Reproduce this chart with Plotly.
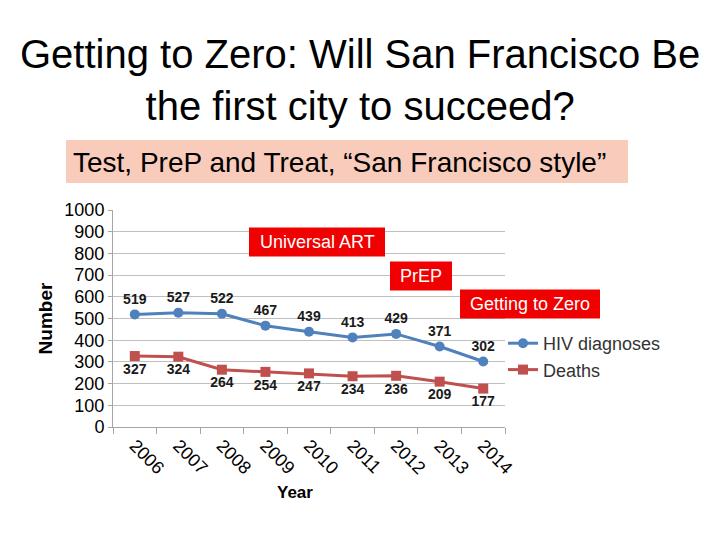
import plotly.graph_objects as go

years = ["2006", "2007", "2008", "2009", "2010", "2011", "2012", "2013", "2014"]
hiv_diagnoses = [519, 527, 522, 467, 439, 413, 429, 371, 302]
deaths = [327, 324, 264, 254, 247, 234, 236, 209, 177]
y_ticks = [0, 100, 200, 300, 400, 500, 600, 700, 800, 900, 1000]

FONT = "Liberation Sans, Arial, sans-serif"
OFF = 8  # page body margin
VW, VH = 720, 540  # viewport
W, H = VW - OFF, VH - OFF  # figure size so that no scrollbars appear
L, R, T, B = 113, 505, 210, 427  # plot area in reference (viewport) pixels

def px(x):
    return (x - L) / (R - L)

def py(y):
    return (B - y) / (B - T)

fig = go.Figure()
fig.add_trace(go.Scatter(
    x=years, y=hiv_diagnoses, name="HIV diagnoses",
    mode="lines+markers+text", text=[str(v) for v in hiv_diagnoses],
    textposition="top center",
    textfont=dict(family=FONT, size=14, color="#1a1a1a", weight="bold"),
    line=dict(color="#4F81BD", width=3),
    marker=dict(symbol="circle", size=10, color="#4F81BD"),
))
fig.add_trace(go.Scatter(
    x=years, y=deaths, name="Deaths",
    mode="lines+markers+text", text=[str(v) for v in deaths],
    textposition="bottom center",
    textfont=dict(family=FONT, size=14, color="#1a1a1a", weight="bold"),
    line=dict(color="#C0504D", width=3),
    marker=dict(symbol="square", size=10, color="#C0504D"),
))

fig.update_layout(
    width=W, height=H,
    margin=dict(l=L - OFF, r=VW - R, t=T - OFF, b=VH - B, autoexpand=False),
    paper_bgcolor="white", plot_bgcolor="white",
    font=dict(family=FONT, color="#000000"),
    showlegend=True,
    legend=dict(x=px(503), y=py(325), xanchor="left", yanchor="top",
                font=dict(family=FONT, size=18, color="#333333"),
                bgcolor="rgba(0,0,0,0)", itemwidth=30, tracegroupgap=0),
)
fig.update_xaxes(
    type="category", range=[-0.5, len(years) - 0.5],
    tickangle=45, tickson="boundaries", ticks="outside",
    ticklen=6, tickcolor="#A6A6A6", showline=True, linecolor="#A6A6A6",
    linewidth=1, showgrid=False,
    tickfont=dict(family=FONT, size=18, color="#000000"),
)
fig.update_yaxes(
    range=[0, 1000], tickvals=y_ticks, ticks="outside", ticklen=4,
    tickcolor="#A6A6A6", showline=True, linecolor="#A6A6A6", linewidth=1,
    showgrid=True, gridcolor="#BFBFBF", gridwidth=1, zeroline=False,
    tickfont=dict(family=FONT, size=18, color="#000000"),
    title=dict(text="<b>Number</b>", font=dict(family=FONT, size=19), standoff=6),
)

# X axis title
fig.add_annotation(
    xref="paper", yref="paper", x=px(295), y=py(492),
    text="<b>Year</b>", showarrow=False, xanchor="center", yanchor="middle",
    font=dict(family=FONT, size=17, color="#000000"),
)

# Title
fig.add_annotation(
    xref="paper", yref="paper", x=px(360), y=py(80),
    text="Getting to Zero: Will San Francisco Be<br>the first city to succeed?",
    showarrow=False, xanchor="center", yanchor="middle",
    font=dict(family=FONT, size=40, color="#000000"),
)

# Subtitle box
fig.add_shape(type="rect", xref="paper", yref="paper",
              x0=px(66), x1=px(628), y0=py(140), y1=py(183),
              fillcolor="#F9CBBB", line=dict(width=0), layer="below")
fig.add_annotation(
    xref="paper", yref="paper", x=px(71), y=py(162),
    text="Test, PreP and Treat, \u201cSan Francisco style\u201d",
    showarrow=False, xanchor="left", yanchor="middle",
    font=dict(family=FONT, size=28, color="#000000"),
)

# Red labels
for txt, cx, cy, w in [("Universal ART", 317, 242, 136),
                       ("PrEP", 421, 276, 62),
                       ("Getting to Zero", 530, 304, 140)]:
    fig.add_shape(type="rect", xref="paper", yref="paper",
                  x0=px(cx - w / 2), x1=px(cx + w / 2),
                  y0=py(cy - 14.5), y1=py(cy + 14.5),
                  fillcolor="#F00000", line=dict(width=0), layer="above")
    fig.add_annotation(
        xref="paper", yref="paper", x=px(cx), y=py(cy), text=txt,
        showarrow=False, xanchor="center", yanchor="middle",
        font=dict(family=FONT, size=18, color="white"),
    )

fig.write_html("out.html")
